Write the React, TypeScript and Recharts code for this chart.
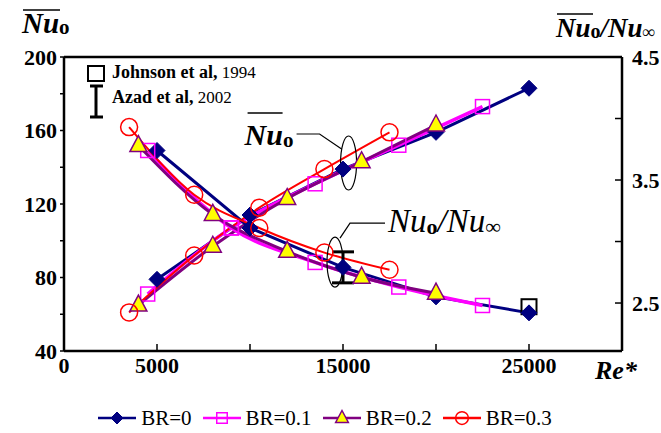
import React from 'react'
import {
  ComposedChart,
  Line,
  XAxis,
  YAxis,
  ReferenceLine,
  ReferenceDot,
  Scatter,
  ErrorBar,
  Legend,
} from 'recharts'

// Re* positions of each series
const reBR0 = [5000, 10000, 15000, 20000, 25000]
const reBR01 = [4500, 9000, 13500, 18000, 22500]
const reBR02 = [4000, 8000, 12000, 16000, 20000]
const reBR03 = [3500, 7000, 10500, 14000, 17500]

// mean Nu_o (left axis)
const nuBR0 = [79, 114, 139, 159, 183]
const nuBR01 = [71, 107, 131, 152, 173]
const nuBR02 = [65, 97, 123, 143, 163]
const nuBR03 = [61, 92, 118, 139, 159]

// Nu_o / Nu_inf (right axis)
const ratioBR0 = [3.74, 3.11, 2.79, 2.55, 2.42]
const ratioBR01 = [3.74, 3.11, 2.83, 2.63, 2.48]
const ratioBR02 = [3.78, 3.22, 2.92, 2.71, 2.58]
const ratioBR03 = [3.93, 3.38, 3.11, 2.91, 2.77]

// reference data
const johnsonPoint = { re: 25000, ratio: 2.47 }
const azadPoint = [{ re: 15000, ratio: 2.79, err: 0.126 }]

const xTicks = [0, 5000, 10000, 15000, 20000, 25000]
const leftTicks = [40, 60, 80, 100, 120, 140, 160, 180, 200]
const rightTicks = [2.5, 3, 3.5, 4, 4.5]

const build = (re: number[], nu: number[], ratio: number[]) =>
  re.map((r, i) => ({ re: r, nu: nu[i], ratio: ratio[i] }))

const series = [
  { name: 'BR=0', data: build(reBR0, nuBR0, ratioBR0), color: '#000080', fill: '#000080', marker: 'diamond', width: 3, curve: 'linear' },
  { name: 'BR=0.1', data: build(reBR01, nuBR01, ratioBR01), color: '#ff00ff', fill: 'none', marker: 'square', width: 3.5, curve: 'monotone' },
  { name: 'BR=0.2', data: build(reBR02, nuBR02, ratioBR02), color: '#800080', fill: '#ffff00', marker: 'triangle', width: 3, curve: 'monotone' },
  { name: 'BR=0.3', data: build(reBR03, nuBR03, ratioBR03), color: '#ff0000', fill: 'none', marker: 'circle', width: 2, curve: 'monotone' },
]

const serif = '"Liberation Serif", "Times New Roman", serif'

function Marker({ kind, cx, cy, color, fill, s = 1 }: any) {
  if (cx == null || cy == null) return null
  if (kind === 'diamond') {
    const d = 8 * s
    return <path d={`M${cx},${cy - d} L${cx + d},${cy} L${cx},${cy + d} L${cx - d},${cy} Z`} fill={fill} stroke={color} strokeWidth={1} />
  }
  if (kind === 'square') {
    const h = 7 * s
    return <rect x={cx - h} y={cy - h} width={2 * h} height={2 * h} fill="none" stroke={color} strokeWidth={1.5} />
  }
  if (kind === 'triangle') {
    return (
      <path
        d={`M${cx},${cy - 10 * s} L${cx + 8.5 * s},${cy + 6 * s} L${cx - 8.5 * s},${cy + 6 * s} Z`}
        fill={fill}
        stroke={color}
        strokeWidth={1.5}
      />
    )
  }
  return <circle cx={cx} cy={cy} r={8.5 * s} fill="none" stroke={color} strokeWidth={1.5} />
}

const NuBarLabel = (p: any) => {
  const { cx, cy } = p
  return (
    <g>
      <ellipse cx={cx} cy={cy} rx={8} ry={27} fill="none" stroke="#000" strokeWidth={1.2} />
      <polyline points={`${cx - 52},${cy - 29} ${cx - 29},${cy - 29} ${cx - 7},${cy - 14}`} fill="none" stroke="#000" strokeWidth={1.2} />
      <line x1={cx - 101} x2={cx - 66} y1={cy - 50} y2={cy - 50} stroke="#000" strokeWidth={1.5} />
      <text x={cx - 104} y={cy - 18} fontFamily={serif} fontSize={30} fontWeight="bold" fontStyle="italic" fill="#000">
        Nu
        <tspan fontStyle="normal" fontSize={21} dy={2}>o</tspan>
      </text>
    </g>
  )
}

const RatioLabel = (p: any) => {
  const { cx, cy } = p
  return (
    <g>
      <ellipse cx={cx} cy={cy} rx={8} ry={25} fill="none" stroke="#000" strokeWidth={1.2} />
      <polyline points={`${cx + 5},${cy - 24} ${cx + 15},${cy - 39} ${cx + 50},${cy - 39}`} fill="none" stroke="#000" strokeWidth={1.2} />
      <text x={cx + 53} y={cy - 30} fontFamily={serif} fontSize={33} fontStyle="italic" fill="#000">
        Nu
        <tspan fontStyle="normal" fontWeight="bold" fontSize={22} dy={2}>o</tspan>
        <tspan dy={-2}>/Nu</tspan>
        <tspan fontStyle="normal" fontSize={22} dy={2}>∞</tspan>
      </text>
    </g>
  )
}

const JohnsonShape = (p: any) => {
  const { cx, cy } = p
  return <rect x={cx - 7.5} y={cy - 7.5} width={15} height={15} fill="none" stroke="#000" strokeWidth={2} />
}

const renderLegend = (props: any) => {
  const items = (props.payload || []).filter((e: any) => series.some((s) => s.name === e.value))
  return (
    <div
      style={{
        display: 'flex',
        justifyContent: 'center',
        alignItems: 'center',
        height: 40,
        paddingTop: 10,
        boxSizing: 'border-box',
        fontFamily: serif,
        fontSize: 21,
        color: '#000',
      }}
    >
      {items.map((e: any) => {
        const s = series.find((x) => x.name === e.value)!
        return (
          <div key={s.name} style={{ display: 'flex', alignItems: 'center', marginRight: 11 }}>
            <svg width={38} height={20} style={{ marginRight: 5 }}>
              <line x1={0} x2={38} y1={10} y2={10} stroke={s.color} strokeWidth={2.5} />
              <Marker kind={s.marker} cx={19} cy={10} color={s.color} fill={s.fill} s={0.75} />
            </svg>
            <span>{s.name}</span>
          </div>
        )
      })}
    </div>
  )
}

export default function App() {
  const tickStyle = { fontFamily: serif, fontSize: 22, fontWeight: 'bold', fill: '#000' }
  return (
    <div style={{ position: 'absolute', left: 0, top: 0, width: 661, height: 433, background: '#fff' }}>
      <ComposedChart width={661} height={433} margin={{ top: 57, right: 0, bottom: 0, left: 0 }}>
        <XAxis
          dataKey="re"
          type="number"
          domain={[0, 30000]}
          ticks={xTicks}
          tickFormatter={(v: number) => (v === 10000 || v === 20000 ? '' : String(v))}
          tick={tickStyle}
          tickSize={-7}
          tickMargin={13}
          height={42}
          axisLine={{ stroke: '#000', strokeWidth: 2.5 }}
          tickLine={{ stroke: '#000', strokeWidth: 1.5 }}
          allowDataOverflow
        />
        <YAxis
          yAxisId="l"
          orientation="left"
          type="number"
          domain={[40, 200]}
          ticks={leftTicks}
          tickFormatter={(v: number) => (v % 40 === 0 ? String(v) : '')}
          tick={tickStyle}
          tickSize={4}
          tickMargin={3}
          width={64}
          axisLine={{ stroke: '#000', strokeWidth: 2.5 }}
          tickLine={{ stroke: '#000', strokeWidth: 1.5 }}
          allowDataOverflow
        />
        <YAxis
          yAxisId="r"
          orientation="right"
          type="number"
          domain={[2.11, 4.5]}
          ticks={rightTicks}
          tickFormatter={(v: number) => (v === 3 || v === 4 ? '' : v.toFixed(1))}
          tick={{ ...tickStyle, textAnchor: 'start' }}
          tickSize={-7}
          tickMargin={17}
          width={39}
          axisLine={{ stroke: '#000', strokeWidth: 2.5 }}
          tickLine={{ stroke: '#000', strokeWidth: 1.5 }}
          allowDataOverflow
        />
        <ReferenceLine yAxisId="l" y={200} stroke="#000" strokeWidth={2.5} />

        {series.map((s) => (
          <Line
            key={s.name + '-nu'}
            name={s.name}
            data={s.data}
            dataKey="nu"
            yAxisId="l"
            type={s.curve as any}
            stroke={s.color}
            strokeWidth={s.width}
            dot={(p: any) => <Marker key={p.index} kind={s.marker} cx={p.cx} cy={p.cy} color={s.color} fill={s.fill} />}
            activeDot={false}
            isAnimationActive={false}
          />
        ))}
        {series.map((s) => (
          <Line
            key={s.name + '-ratio'}
            name={s.name + ' ratio'}
            data={s.data}
            dataKey="ratio"
            yAxisId="r"
            type={s.curve as any}
            stroke={s.color}
            strokeWidth={s.width}
            dot={(p: any) => <Marker key={p.index} kind={s.marker} cx={p.cx} cy={p.cy} color={s.color} fill={s.fill} />}
            activeDot={false}
            legendType="none"
            isAnimationActive={false}
          />
        ))}

        <Scatter
          name="Azad"
          data={azadPoint}
          dataKey="ratio"
          yAxisId="r"
          legendType="none"
          shape={() => <g />}
          isAnimationActive={false}
        >
          <ErrorBar dataKey="err" direction="y" width={11} stroke="#000" strokeWidth={3} isAnimationActive={false} />
        </Scatter>

        <ReferenceDot yAxisId="r" x={johnsonPoint.re} y={johnsonPoint.ratio} shape={JohnsonShape} />
        <ReferenceDot yAxisId="l" x={15300} y={142.3} shape={NuBarLabel} />
        <ReferenceDot yAxisId="r" x={14570} y={2.833} shape={RatioLabel} />

        <Legend verticalAlign="bottom" height={40} content={renderLegend} />
      </ComposedChart>

      <svg width={661} height={433} style={{ position: 'absolute', left: 0, top: 0, pointerEvents: 'none' }}>
        {/* axis titles */}
        <line x1={23} x2={60} y1={10} y2={10} stroke="#000" strokeWidth={1.5} />
        <text x={22} y={33} fontFamily={serif} fontSize={29} fontWeight="bold" fontStyle="italic">
          Nu
          <tspan fontStyle="normal" fontSize={21} dy={1}>o</tspan>
        </text>
        <line x1={557} x2={593} y1={14} y2={14} stroke="#000" strokeWidth={1.5} />
        <text x={556} y={37} fontFamily={serif} fontSize={27} fontWeight="bold" fontStyle="italic">
          Nu
          <tspan fontStyle="normal" fontSize={20} dy={1}>o</tspan>
          <tspan dy={-1}>/Nu</tspan>
          <tspan fontStyle="normal" fontSize={18} dy={1}>∞</tspan>
        </text>
        <text x={595} y={379} fontFamily={serif} fontSize={26} fontWeight="bold" fontStyle="italic">
          Re*
        </text>

        {/* reference key */}
        <rect x={88} y={66} width={16} height={15} fill="none" stroke="#000" strokeWidth={2} />
        <text x={112} y={78} fontFamily={serif} fontSize={18} fontWeight="bold">
          Johnson et al,
          <tspan fontWeight="normal" fontSize={17}> 1994</tspan>
        </text>
        <line x1={96} x2={96} y1={86} y2={117} stroke="#000" strokeWidth={3} />
        <line x1={90} x2={103} y1={86} y2={86} stroke="#000" strokeWidth={3} />
        <line x1={90} x2={103} y1={117} y2={117} stroke="#000" strokeWidth={3} />
        <text x={112} y={103} fontFamily={serif} fontSize={18} fontWeight="bold">
          Azad et al,
          <tspan fontWeight="normal" fontSize={17}> 2002</tspan>
        </text>
      </svg>
    </div>
  )
}
